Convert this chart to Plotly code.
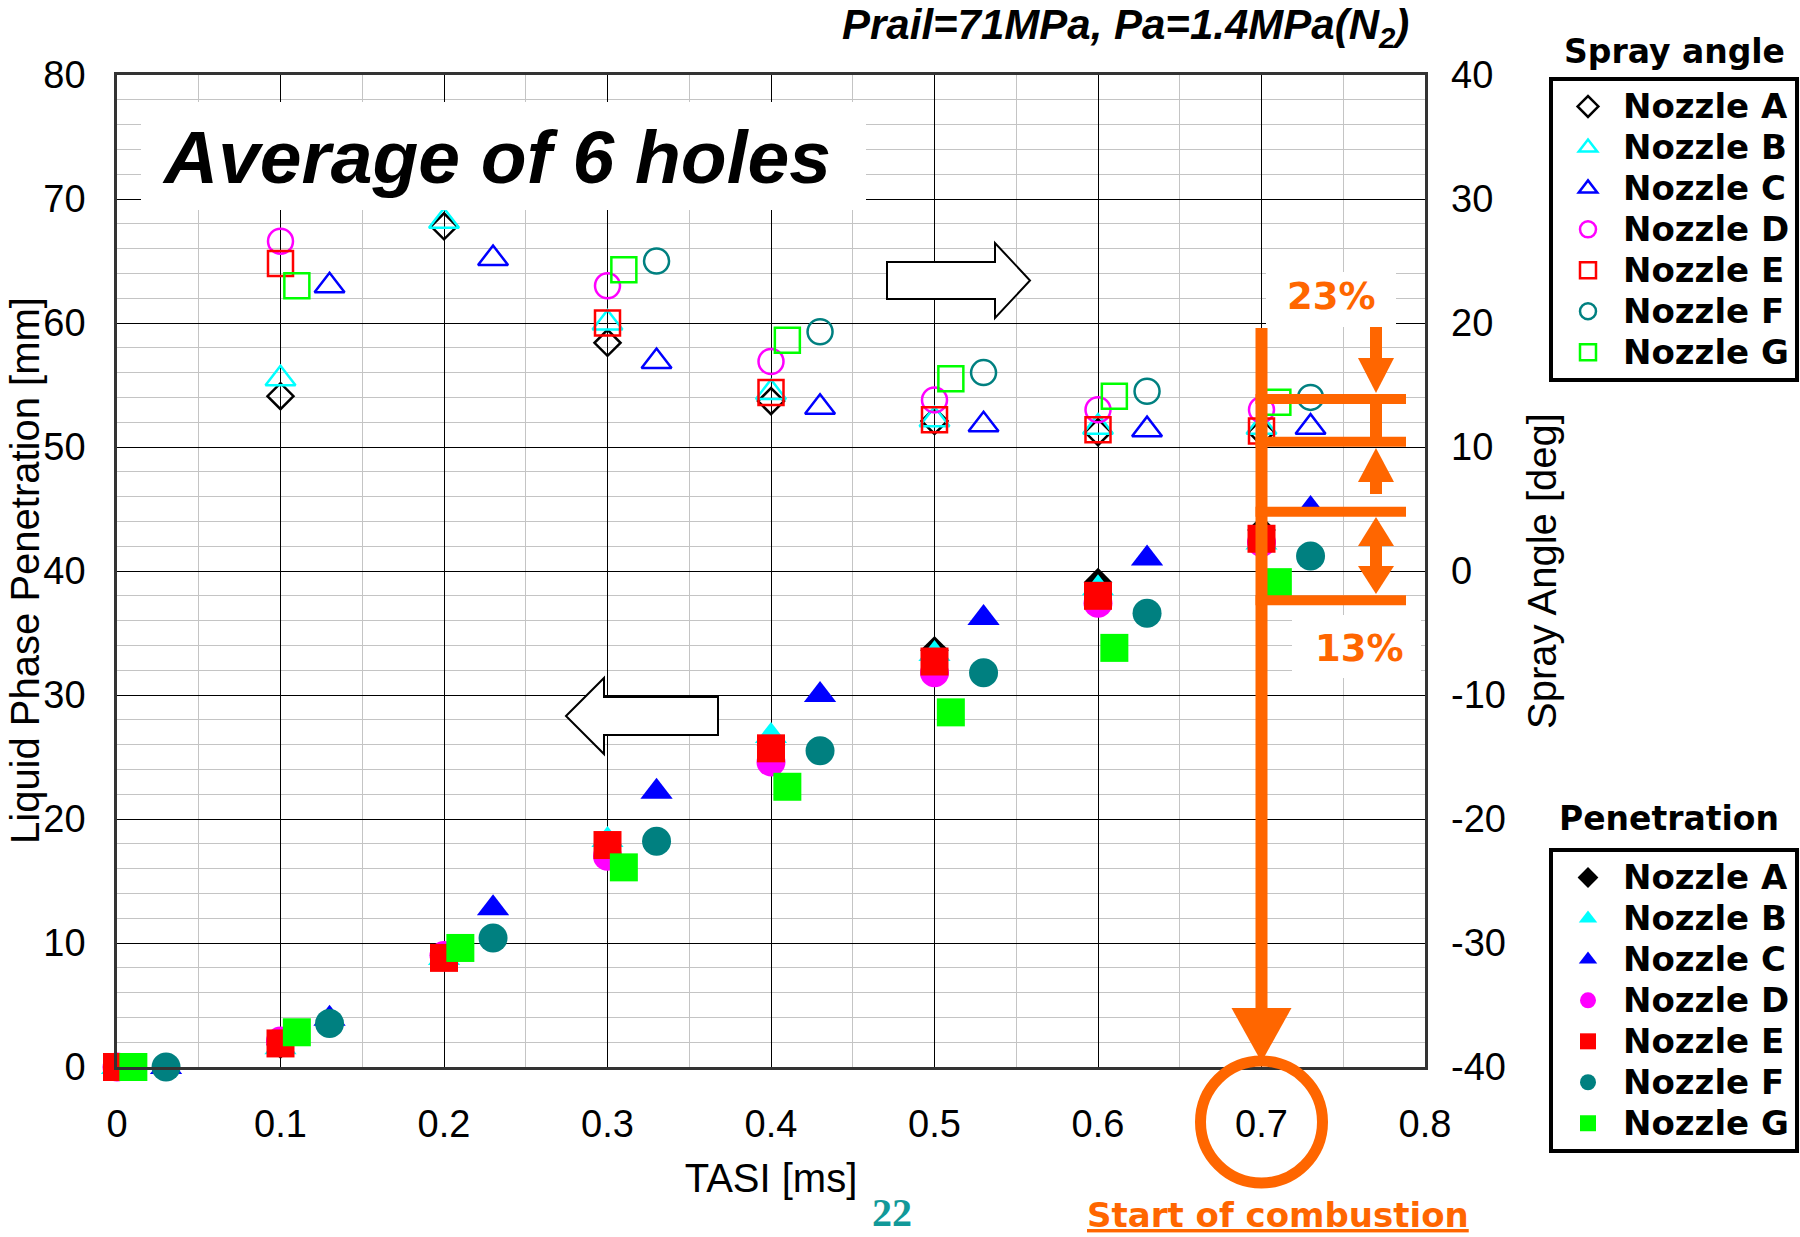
import plotly.graph_objects as go

# ---------------- data ----------------
nozzles = ["Nozzle A", "Nozzle B", "Nozzle C", "Nozzle D", "Nozzle E", "Nozzle F", "Nozzle G"]
colors = ["#000000", "#00FFFF", "#0000FF", "#FF00FF", "#FF0000", "#008080", "#00FF00"]

# TASI [ms] positions (C, F and G are plotted slightly shifted in the original)
tasi_a = [0.0, 0.1, 0.2, 0.3, 0.4, 0.5, 0.6, 0.7]
tasi_b = [0.0, 0.1, 0.2, 0.3, 0.4, 0.5, 0.6, 0.7]
tasi_c = [0.03, 0.13, 0.23, 0.33, 0.43, 0.53, 0.63, 0.73]
tasi_d = [0.0, 0.1, 0.2, 0.3, 0.4, 0.5, 0.6, 0.7]
tasi_e = [0.0, 0.1, 0.2, 0.3, 0.4, 0.5, 0.6, 0.7]
tasi_f = [0.03, 0.13, 0.23, 0.33, 0.43, 0.53, 0.63, 0.73]
tasi_g = [0.01, 0.11, 0.21, 0.31, 0.41, 0.51, 0.61, 0.71]

# Spray angle [deg] (right axis, open markers)
angle_a = [None, 14.1, 27.8, 18.4, 13.7, 12.1, 11.2, 11.2]
angle_b = [None, 15.5, 28.2, 20.0, 14.4, 12.2, 11.6, 11.6]
angle_c = [None, 23.0, 25.2, 16.9, 13.2, 11.8, 11.4, 11.6]
angle_d = [None, 26.6, None, 23.0, 16.9, 13.8, 13.0, 13.0]
angle_e = [None, 24.8, None, 20.0, 14.4, 12.2, 11.4, 11.3]
angle_f = [None, None, None, 25.0, 19.3, 16.0, 14.5, 14.0]
angle_g = [None, 23.0, None, 24.3, 18.6, 15.5, 14.1, 13.6]

# Liquid phase penetration [mm] (left axis, filled markers)
pen_a = [0.0, 1.8, 9.0, 17.8, 25.9, 33.6, 39.1, 43.3]
pen_b = [0.0, 1.6, 8.8, 18.3, 26.7, 33.3, 38.6, 42.3]
pen_c = [0.0, 3.9, 12.8, 22.2, 30.0, 36.2, 41.0, 45.0]
pen_d = [0.0, 2.1, 9.0, 17.0, 24.6, 31.8, 37.4, 42.3]
pen_e = [0.0, 1.9, 8.8, 17.9, 25.7, 32.7, 38.0, 42.6]
pen_f = [0.0, 3.5, 10.4, 18.2, 25.5, 31.8, 36.6, 41.2]
pen_g = [0.0, 2.8, 9.6, 16.1, 22.6, 28.6, 33.8, 39.1]

tasi = [tasi_a, tasi_b, tasi_c, tasi_d, tasi_e, tasi_f, tasi_g]
angles = [angle_a, angle_b, angle_c, angle_d, angle_e, angle_f, angle_g]
pens = [pen_a, pen_b, pen_c, pen_d, pen_e, pen_f, pen_g]

x_tick_vals = [0, 0.1, 0.2, 0.3, 0.4, 0.5, 0.6, 0.7, 0.8]
x_tick_text = ["0", "0.1", "0.2", "0.3", "0.4", "0.5", "0.6", "0.7", "0.8"]
y_tick_vals = [0, 10, 20, 30, 40, 50, 60, 70, 80]
y_tick_text = ["0", "10", "20", "30", "40", "50", "60", "70", "80"]
y2_tick_vals = [-40, -30, -20, -10, 0, 10, 20, 30, 40]
y2_tick_text = ["-40", "-30", "-20", "-10", "0", "10", "20", "30", "40"]

# ---------------- styling ----------------
open_symbols = ["diamond-open", "triangle-up-open", "triangle-up-open", "circle-open",
                "square-open", "circle-open", "square-open"]
fill_symbols = ["diamond", "triangle-up", "triangle-up", "circle", "square", "circle", "square"]
open_sizes = [20, 26, 26, 25, 25, 25, 25]
fill_sizes = [22, 28, 28, 29, 28, 29, 28]

ORANGE = "#FF6600"
W, H = 1800, 1237
ML, MR, MT, MB = 117, 375, 75, 170
PW, PH = W - ML - MR, H - MT - MB
XMAX = 0.8


def px(xp):
    return (xp - ML) / PW


def py(yp):
    return (H - MB - yp) / PH


LEG_FS = 29.2
LEG_TXT = 34

fig = go.Figure()

for i in range(7):
    fig.add_trace(go.Scatter(
        x=tasi[i], y=pens[i], mode="markers", name=nozzles[i],
        legend="legend2", yaxis="y", cliponaxis=False,
        marker=dict(symbol=fill_symbols[i], size=fill_sizes[i], color=colors[i],
                    line=dict(width=0)),
    ))

for i in range(7):
    fig.add_trace(go.Scatter(
        x=tasi[i], y=angles[i], mode="markers", name=nozzles[i],
        legend="legend", yaxis="y2",
        marker=dict(symbol=open_symbols[i], size=open_sizes[i], color=colors[i],
                    line=dict(width=2.5, color=colors[i])),
    ))

# legend text rendered larger than the row-height font
for tr in fig.data:
    tr.name = "<span style='font-size:%dpx'>%s</span>" % (LEG_TXT, tr.name)

shapes = []
# white box behind the big label
shapes.append(dict(type="rect", xref="paper", yref="paper", x0=px(141), x1=px(866),
                   y0=py(210), y1=py(102), fillcolor="white", line=dict(width=0), layer="above"))
# white boxes behind the percentage labels
shapes.append(dict(type="rect", xref="paper", yref="paper", x0=px(1266), x1=px(1396),
                   y0=py(327), y1=py(272), fillcolor="white", line=dict(width=0), layer="above"))
shapes.append(dict(type="rect", xref="paper", yref="paper", x0=px(1292), x1=px(1421),
                   y0=py(678), y1=py(615), fillcolor="white", line=dict(width=0), layer="above"))


def poly(points):
    return "M " + " L ".join("%f,%f" % (px(a), py(b)) for a, b in points) + " Z"


# block arrows
shapes.append(dict(type="path", xref="paper", yref="paper",
                   path=poly([(887, 262), (995, 262), (995, 243), (1030, 280.5),
                              (995, 318), (995, 299), (887, 299)]),
                   fillcolor="white", line=dict(color="black", width=2), layer="above"))
shapes.append(dict(type="path", xref="paper", yref="paper",
                   path=poly([(566, 716), (604, 678), (604, 697), (718, 697),
                              (718, 735), (604, 735), (604, 754)]),
                   fillcolor="white", line=dict(color="black", width=2), layer="above"))

# orange annotation graphics
xo = ML + 0.7 / XMAX * PW
shapes.append(dict(type="line", xref="paper", yref="paper", x0=px(xo), x1=px(xo),
                   y0=py(328), y1=py(1012), line=dict(color=ORANGE, width=12), layer="above"))
shapes.append(dict(type="path", xref="paper", yref="paper",
                   path=poly([(xo - 30, 1008), (xo + 30, 1008), (xo, 1062)]),
                   fillcolor=ORANGE, line=dict(width=0), layer="above"))
for yl in [399, 441.7, 511.7, 600.2]:
    shapes.append(dict(type="line", xref="paper", yref="paper", x0=px(xo - 6), x1=px(1406),
                       y0=py(yl), y1=py(yl), line=dict(color=ORANGE, width=10), layer="above"))
xa = 1376
for y0, y1 in [(327, 360), (399, 442), (480, 494), (544, 568)]:
    shapes.append(dict(type="line", xref="paper", yref="paper", x0=px(xa), x1=px(xa),
                       y0=py(y0), y1=py(y1), line=dict(color=ORANGE, width=12), layer="above"))
for base, tip in [(358, 393), (482, 448), (546, 517), (566, 594)]:
    shapes.append(dict(type="path", xref="paper", yref="paper",
                       path=poly([(xa - 18, base), (xa + 18, base), (xa, tip)]),
                       fillcolor=ORANGE, line=dict(width=0), layer="above"))
# ring round the 0.7 tick label
shapes.append(dict(type="circle", xref="paper", yref="paper",
                   x0=px(xo - 61), x1=px(xo + 61), y0=py(1183), y1=py(1061),
                   line=dict(color=ORANGE, width=11), layer="above"))


def note(text, xp, yp, font, xanchor="center", yanchor="middle", angle=0):
    return dict(text=text, x=px(xp), y=py(yp), xref="paper", yref="paper",
                xanchor=xanchor, yanchor=yanchor, showarrow=False, font=font,
                textangle=angle)


axis_font = dict(family="Liberation Sans, Arial", size=38, color="black")
title_font = dict(family="Liberation Sans, Arial", size=40, color="black")

annotations = [
    note("Prail=71MPa, Pa=1.4MPa(N<sub>2</sub>)", 1411, 27,
         dict(family="Liberation Sans, Arial", size=42, weight="bold", style="italic",
              color="black"), xanchor="right"),
    note("Average of 6 holes", 160, 157,
         dict(family="Liberation Sans, Arial", size=75, weight="bold", style="italic",
              color="black"), xanchor="left"),
    note("23%", 1331, 296, dict(family="DejaVu Sans", size=37, weight="bold", color=ORANGE)),
    note("13%", 1359, 648, dict(family="DejaVu Sans", size=37, weight="bold", color=ORANGE)),
    note("<u>Start of combustion</u>", 1278, 1215,
         dict(family="DejaVu Sans", size=34, weight="bold", color=ORANGE)),
    note("22", 892, 1212,
         dict(family="Liberation Serif, Times New Roman", size=40, weight="bold",
              color="#119999")),
    note("Spray angle", 1674, 52, dict(family="DejaVu Sans", size=33, weight="bold", color="black")),
    note("Penetration", 1669, 818, dict(family="DejaVu Sans", size=33, weight="bold", color="black")),
    # left axis title (placed by hand so it can sit against the page edge as in the original)
    note("Liquid Phase Penetration [mm]", 25, 571, title_font, angle=-90),
]

fig.update_layout(
    width=W, height=H, autosize=False,
    margin=dict(l=ML, r=MR, t=MT, b=MB, pad=0, autoexpand=False),
    paper_bgcolor="white", plot_bgcolor="white",
    font=dict(family="Liberation Sans, Arial", color="black"),
    xaxis=dict(range=[0, XMAX], tickmode="array", tickvals=x_tick_vals, ticktext=x_tick_text,
               showgrid=True, gridcolor="black", gridwidth=1,
               minor=dict(dtick=0.05, tick0=0, showgrid=True, gridcolor="#c4c4c4", gridwidth=1),
               showline=True, linecolor="#333333", linewidth=2.5, mirror=True,
               ticks="", zeroline=False, tickfont=axis_font, ticklabelstandoff=22,
               title=dict(text="TASI [ms]", font=title_font, standoff=20)),
    yaxis=dict(range=[0, 80], tickmode="array", tickvals=y_tick_vals, ticktext=y_tick_text,
               showgrid=True, gridcolor="black", gridwidth=1,
               minor=dict(dtick=2, tick0=0, showgrid=True, gridcolor="#c4c4c4", gridwidth=1),
               showline=True, linecolor="#333333", linewidth=2.5, mirror=True,
               ticks="", zeroline=False, tickfont=axis_font, ticklabelstandoff=21),
    yaxis2=dict(range=[-40, 40], overlaying="y", side="right", tickmode="array",
                tickvals=y2_tick_vals, ticktext=y2_tick_text, showgrid=False,
                showline=False, ticks="", zeroline=False, tickfont=axis_font,
                ticklabelstandoff=25,
                title=dict(text="Spray Angle [deg]", font=title_font, standoff=23)),
    legend=dict(x=px(1549), y=py(77), xanchor="left", yanchor="top", xref="paper", yref="paper",
                bgcolor="white", bordercolor="black", borderwidth=4, itemwidth=60,
                font=dict(family="DejaVu Sans", size=LEG_FS, weight="bold", color="black"),
                tracegroupgap=0),
    legend2=dict(x=px(1549), y=py(848), xanchor="left", yanchor="top", xref="paper", yref="paper",
                 bgcolor="white", bordercolor="black", borderwidth=4, itemwidth=60,
                 font=dict(family="DejaVu Sans", size=LEG_FS, weight="bold", color="black"),
                 tracegroupgap=0),
    shapes=shapes,
    annotations=annotations,
    showlegend=True,
)

fig.write_html("out.html")
